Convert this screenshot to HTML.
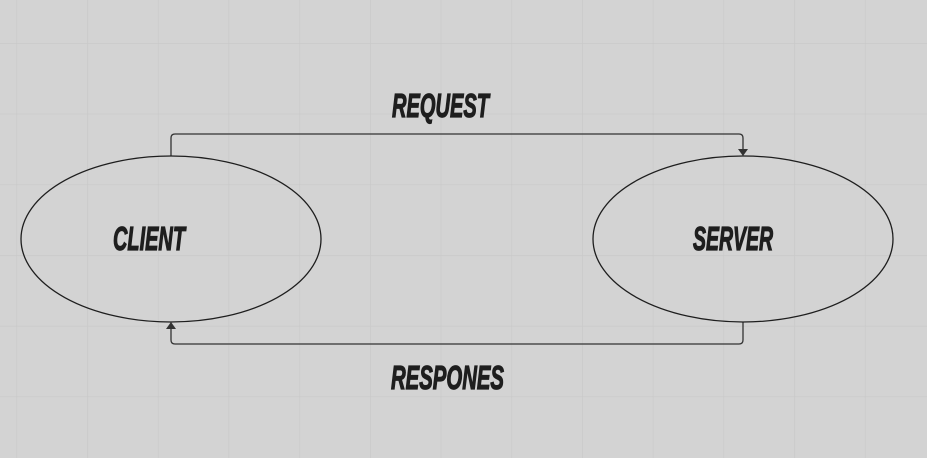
<!DOCTYPE html>
<html><head><meta charset="utf-8"><style>
html,body{margin:0;padding:0;background:#d3d3d3;}
svg{display:block;}
text{font-family:"Liberation Sans",sans-serif;font-weight:bold;font-style:italic;fill:#1e1e1e;stroke:#1e1e1e;stroke-width:1.2;}
</style></head><body>
<svg width="927" height="458" viewBox="0 0 927 458">
<defs>
<pattern id="grid" x="16.5" y="43" width="70.7" height="70.7" patternUnits="userSpaceOnUse">
<path d="M0 0H70.7M0 0V70.7" stroke="#c8c8c8" stroke-width="1.2" fill="none"/>
</pattern>
</defs>
<rect width="927" height="458" fill="#d3d3d3"/>
<rect width="927" height="458" fill="url(#grid)"/>
<path d="M171 156V138Q171 134 175 134H739Q743 134 743 138V152" fill="none" stroke="#333" stroke-width="1.3"/>
<path d="M738 149L743 156L748 149Z" fill="#333"/>
<path d="M743 322V340Q743 344 739 344H175Q171 344 171 340V326" fill="none" stroke="#333" stroke-width="1.3"/>
<path d="M166 329L171 322L176 329Z" fill="#333"/>
<ellipse cx="171" cy="239" rx="150" ry="83" fill="none" stroke="#1e1e1e" stroke-width="1.3"/>
<ellipse cx="743" cy="239" rx="150" ry="83" fill="none" stroke="#1e1e1e" stroke-width="1.3"/>
<text x="392" y="117" font-size="33" textLength="97" lengthAdjust="spacingAndGlyphs">REQUEST</text>
<text x="113" y="250" font-size="33" textLength="72" lengthAdjust="spacingAndGlyphs">CLIENT</text>
<text x="693" y="250" font-size="33" textLength="80" lengthAdjust="spacingAndGlyphs">SERVER</text>
<text x="391" y="389" font-size="33" textLength="113" lengthAdjust="spacingAndGlyphs">RESPONES</text>
</svg>
</body></html>
